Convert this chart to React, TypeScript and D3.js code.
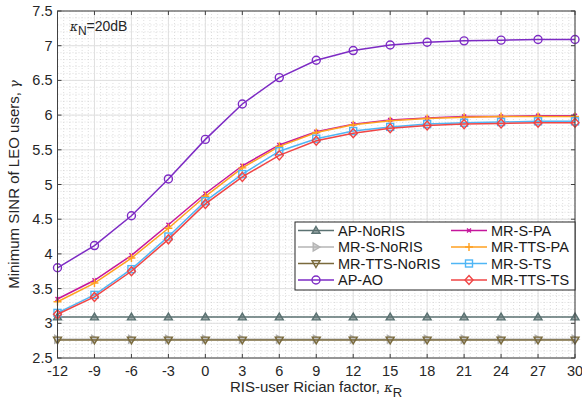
import React from "react";
import * as d3 from "d3";

const kappaR = [-12, -9, -6, -3, 0, 3, 6, 9, 12, 15, 18, 21, 24, 27, 30];
const apNoRIS = [3.09, 3.09, 3.09, 3.09, 3.09, 3.09, 3.09, 3.09, 3.09, 3.09, 3.09, 3.09, 3.09, 3.09, 3.09];
const mrSNoRIS = [2.77, 2.77, 2.77, 2.77, 2.77, 2.77, 2.77, 2.77, 2.77, 2.77, 2.77, 2.77, 2.77, 2.77, 2.77];
const mrTTSNoRIS = [2.76, 2.76, 2.76, 2.76, 2.76, 2.76, 2.76, 2.76, 2.76, 2.76, 2.76, 2.76, 2.76, 2.76, 2.76];
const apAO = [3.8, 4.12, 4.55, 5.08, 5.65, 6.16, 6.54, 6.79, 6.93, 7.01, 7.05, 7.07, 7.08, 7.09, 7.09];
const mrSPA = [3.35, 3.62, 3.98, 4.42, 4.87, 5.27, 5.57, 5.76, 5.87, 5.93, 5.96, 5.98, 5.98, 5.99, 5.99];
const mrTTSPA = [3.31, 3.58, 3.94, 4.37, 4.83, 5.24, 5.55, 5.75, 5.86, 5.92, 5.95, 5.97, 5.98, 5.98, 5.98];
const mrSTS = [3.15, 3.41, 3.78, 4.25, 4.76, 5.15, 5.48, 5.66, 5.77, 5.83, 5.87, 5.89, 5.9, 5.91, 5.91];
const mrTTSTS = [3.13, 3.38, 3.75, 4.21, 4.72, 5.11, 5.42, 5.63, 5.74, 5.81, 5.85, 5.87, 5.88, 5.89, 5.89];
const yTicks = [2.5, 3, 3.5, 4, 4.5, 5, 5.5, 6, 6.5, 7, 7.5];

type Series = { name: string; values: number[]; color: string; marker: string };
const series: Series[] = [
  { name: "AP-NoRIS", values: apNoRIS, color: "#5b7272", marker: "tri" },
  { name: "MR-S-NoRIS", values: mrSNoRIS, color: "#b4b4b4", marker: "triR" },
  { name: "MR-TTS-NoRIS", values: mrTTSNoRIS, color: "#7a6a3c", marker: "triD" },
  { name: "AP-AO", values: apAO, color: "#7d2bc4", marker: "circle" },
  { name: "MR-S-PA", values: mrSPA, color: "#c5169c", marker: "x" },
  { name: "MR-TTS-PA", values: mrTTSPA, color: "#ffa020", marker: "plus" },
  { name: "MR-S-TS", values: mrSTS, color: "#4fb6f5", marker: "square" },
  { name: "MR-TTS-TS", values: mrTTSTS, color: "#f04545", marker: "diamond" },
];

const L = 57.5, R = 575, T = 11, B = 358;

function Marker({ type, x, y, color }: { type: string; x: number; y: number; color: string }) {
  const s = 4;
  const common = { stroke: color, strokeWidth: 1.4, fill: "none" };
  switch (type) {
    case "tri":
      return <path d={`M${x},${y - s}L${x + s},${y + s * 0.7}L${x - s},${y + s * 0.7}Z`} {...common} fill={color} fillOpacity={0.6} />;
    case "triR":
      return <path d={`M${x + s},${y}L${x - s * 0.7},${y - s}L${x - s * 0.7},${y + s}Z`} {...common} fill={color} fillOpacity={0.6} />;
    case "triD":
      return <path d={`M${x},${y + s}L${x + s},${y - s * 0.7}L${x - s},${y - s * 0.7}Z`} {...common} />;
    case "circle":
      return <circle cx={x} cy={y} r={s} {...common} />;
    case "x":
      return <path d={`M${x - 2},${y - 2}L${x + 2},${y + 2}M${x - 2},${y + 2}L${x + 2},${y - 2}`} {...common} />;
    case "plus":
      return <path d={`M${x - s},${y}L${x + s},${y}M${x},${y - s}L${x},${y + s}`} {...common} />;
    case "square":
      return <rect x={x - 3.5} y={y - 3.5} width={7} height={7} {...common} />;
    case "diamond":
      return <path d={`M${x},${y - s - 0.5}L${x + s},${y}L${x},${y + s + 0.5}L${x - s},${y}Z`} {...common} />;
  }
  return null;
}

export default function App() {
  const x = d3.scaleLinear().domain([-12, 30]).range([L, R]);
  const y = d3.scaleLinear().domain([2.5, 7.5]).range([B, T]);
  const line = d3.line<number>().x((_, i) => x(kappaR[i])).y((v) => y(v));
  const minorX = d3.range(-12, 30.01, 0.5);
  const minorY = d3.range(2.5, 7.51, 0.1);
  const font = "'Liberation Sans', Arial, sans-serif";

  const legX1 = 295, legX2 = 575, legY1 = 222, legY2 = 290;
  const rows = [230.5, 247, 263.5, 280];

  return (
    <svg width={582} height={404} style={{ position: "absolute", left: 0, top: 0, fontFamily: font }}>
      <rect x={0} y={0} width={582} height={404} fill="#fff" />
      {/* minor grid */}
      {minorX.map((v, i) => (
        <line key={"mx" + i} x1={x(v)} x2={x(v)} y1={T} y2={B} stroke="#c8c8c8" strokeWidth={0.6} strokeDasharray="1,2" />
      ))}
      {minorY.map((v, i) => (
        <line key={"my" + i} x1={L} x2={R} y1={y(v)} y2={y(v)} stroke="#c8c8c8" strokeWidth={0.6} strokeDasharray="1,2" />
      ))}
      {/* major grid */}
      {kappaR.map((v) => (
        <line key={"gx" + v} x1={x(v)} x2={x(v)} y1={T} y2={B} stroke="#e0e0e0" strokeWidth={1} />
      ))}
      {yTicks.map((v) => (
        <line key={"gy" + v} x1={L} x2={R} y1={y(v)} y2={y(v)} stroke="#e0e0e0" strokeWidth={1} />
      ))}
      {/* series */}
      {series.map((s) => (
        <g key={s.name}>
          <path d={line(s.values) || ""} fill="none" stroke={s.color} strokeWidth={1.5} />
          {s.values.map((v, i) => (
            <Marker key={i} type={s.marker} x={x(kappaR[i])} y={y(v)} color={s.color} />
          ))}
        </g>
      ))}
      {/* frame */}
      <rect x={L} y={T} width={R - L} height={B - T} fill="none" stroke="#404040" strokeWidth={1} />
      {kappaR.map((v) => (
        <g key={"tx" + v}>
          <line x1={x(v)} x2={x(v)} y1={B} y2={B - 4} stroke="#404040" />
          <line x1={x(v)} x2={x(v)} y1={T} y2={T + 4} stroke="#404040" />
          <text x={x(v)} y={B + 18} textAnchor="middle" fontSize={14.5} fill="#262626">{v}</text>
        </g>
      ))}
      {yTicks.map((v) => (
        <g key={"ty" + v}>
          <line x1={L} x2={L + 4} y1={y(v)} y2={y(v)} stroke="#404040" />
          <line x1={R} x2={R - 4} y1={y(v)} y2={y(v)} stroke="#404040" />
          <text x={L - 5} y={y(v) + 5} textAnchor="end" fontSize={14.5} fill="#262626">{v}</text>
        </g>
      ))}
      {/* axis labels */}
      <text x={316} y={392} textAnchor="middle" fontSize={15} fill="#262626">
        RIS-user Rician factor, <tspan fontStyle="italic" fontFamily="'DejaVu Serif', serif" fontSize={13}>κ</tspan>
        <tspan fontSize={13} dy={5}>R</tspan>
      </text>
      <text transform={`translate(19,${(T + B) / 2}) rotate(-90)`} textAnchor="middle" fontSize={15} fill="#262626">
        Minimum SINR of LEO users, <tspan fontStyle="italic" fontFamily="'DejaVu Serif', serif" fontSize={13}>γ</tspan>
      </text>
      {/* annotation */}
      <text x={70} y={31} fontSize={14} fill="#262626">
        <tspan fontStyle="italic" fontFamily="'DejaVu Serif', serif" fontSize={12}>κ</tspan>
        <tspan fontSize={12} dy={4}>N</tspan>
        <tspan dy={-4}>=20dB</tspan>
      </text>
      {/* legend */}
      <rect x={legX1} y={legY1} width={legX2 - legX1} height={legY2 - legY1} fill="#fff" stroke="#262626" strokeWidth={1} />
      {series.map((s, i) => {
        const col = Math.floor(i / 4);
        const row = i % 4;
        const lx = col === 0 ? 298 : 451;
        const ly = rows[row];
        return (
          <g key={"leg" + s.name}>
            <line x1={lx} x2={lx + 36} y1={ly} y2={ly} stroke={s.color} strokeWidth={1.5} />
            <Marker type={s.marker} x={lx + 18} y={ly} color={s.color} />
            <text x={lx + 40} y={ly + 5} fontSize={14.5} fill="#1a1a1a">{s.name}</text>
          </g>
        );
      })}
    </svg>
  );
}
